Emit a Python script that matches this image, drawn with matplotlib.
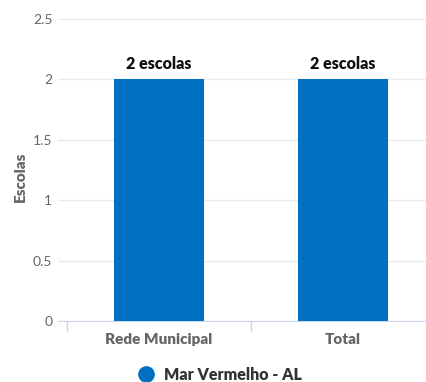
import matplotlib
matplotlib.use("Agg")
import matplotlib.pyplot as plt
from matplotlib.lines import Line2D

categories = ['Rede Municipal', 'Total']
escolas = [2, 2]
series_name = 'Mar Vermelho - AL'
y_ticks = [0, 0.5, 1, 1.5, 2, 2.5]
y_tick_labels = ['0', '0.5', '1', '1.5', '2', '2.5']

plt.rcParams['font.family'] = ['Lato', 'DejaVu Sans']

W, H = 426, 382
fig = plt.figure(figsize=(W / 100, H / 100), dpi=100)
left, right, top, bottom = 58, 426, 19, 321
ax = fig.add_axes([left / W, 1 - bottom / H, (right - left) / W, (bottom - top) / H])

blue = '#0070c0'
x = list(range(len(categories)))
ax.bar(x, escolas, width=0.485, color=blue, zorder=3)

for xi, v in zip(x, escolas):
    ax.annotate('%d escolas' % v, (xi, v), xytext=(0, 5), textcoords='offset points',
                ha='center', va='bottom', fontsize=11.5, fontweight='heavy', color='#111111')

ax.set_xlim(-0.5 - 9 / 184, -0.5 + (right - 67) / 184)
ax.set_ylim(0, 2.5)
ax.set_yticks(y_ticks)
ax.set_yticklabels(y_tick_labels)
ax.yaxis.grid(True, color='#e6ebf2', linewidth=1, zorder=0)
ax.tick_params(axis='y', length=0, pad=4, labelsize=10, labelcolor='#666666')

ax.set_xticks([-0.5, 0.5])
ax.set_xticklabels(['', ''])
ax.set_xticks(x, minor=True)
ax.set_xticklabels(categories, minor=True)
ax.tick_params(axis='x', which='major', length=8, color='#ccd6eb', width=1)
ax.tick_params(axis='x', which='minor', length=0, pad=9, labelsize=11, labelcolor='#666666')
for lbl in ax.get_xticklabels(minor=True):
    lbl.set_fontweight('heavy')

for s in ['top', 'right', 'left']:
    ax.spines[s].set_visible(False)
ax.spines['bottom'].set_color('#ccd6eb')

fig.text(20 / W, 1 - 177 / H, 'Escolas', rotation=90, ha='center', va='center',
         fontsize=11, fontweight='heavy', color='#666666')

handle = Line2D([], [], marker='o', linestyle='', markersize=11, color=blue)
fig.legend([handle], [series_name], loc='center', bbox_to_anchor=(216 / W, 1 - 375 / H),
           frameon=False, handletextpad=0.1, prop={'size': 11.5, 'weight': 'heavy'},
           labelcolor='#333333')

fig.savefig('out.png', dpi=100)
